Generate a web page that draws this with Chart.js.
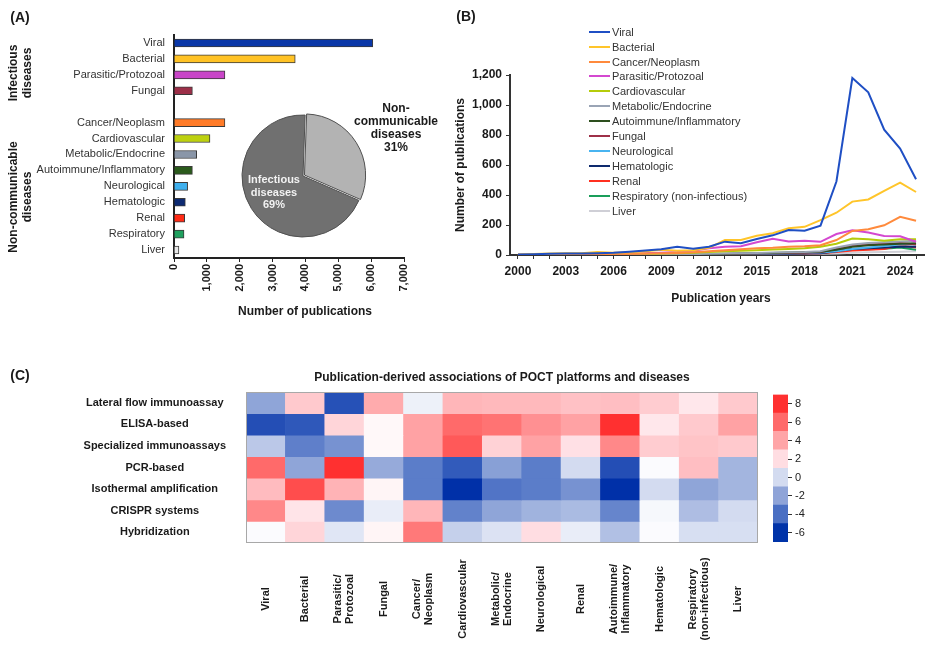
<!DOCTYPE html>
<html>
<head>
<meta charset="utf-8">
<title>POCT publications</title>
<script src="https://cdn.jsdelivr.net/npm/chart.js@4.4.1/dist/chart.umd.min.js"></script>
<style>
body { margin: 0; background: #fff; }
#page { position: relative; width: 936px; height: 649px; overflow: hidden; font-family: 'Liberation Sans', Arial, sans-serif; color: #1a1a1a; }
#page canvas { position: absolute; }
.t { position: absolute; white-space: nowrap; transform: translate(-50%, -50%); text-align: center; }
.v { transform: translate(-50%, -50%) rotate(-90deg); }
.b { font-weight: bold; }
.leg { position: absolute; font-size: 11px; color: #333; white-space: nowrap; transform: translateY(-50%); }
.leg i { position: absolute; left: -23px; top: 50%; width: 21px; height: 2px; margin-top: -1px; }
</style>
</head>
<body>
<div id="page">
  <canvas id="barA" width="430" height="330" style="left:0;top:0"></canvas>
  <canvas id="pieA" width="160" height="160" style="left:223px;top:96px"></canvas>
  <canvas id="lineB" width="496" height="300" style="left:440px;top:20px"></canvas>
  <canvas id="heatC" width="770" height="289" style="left:0;top:360px"></canvas>
  <canvas id="barC" width="60" height="170" style="left:760px;top:385px"></canvas>

  <div class="t b" style="left:20px;top:17px;font-size:14px">(A)</div>
  <div class="t b" style="left:466px;top:16px;font-size:14px">(B)</div>
  <div class="t b" style="left:20px;top:375px;font-size:14px">(C)</div>

  <div class="t v b" style="left:20px;top:73px;font-size:12px;line-height:14px">Infectious<br>diseases</div>
  <div class="t v b" style="left:20px;top:197px;font-size:12px;line-height:14px">Non-communicable<br>diseases</div>
  <div class="t b" style="left:305px;top:311px;font-size:12px">Number of publications</div>
  <div class="t b" style="left:274px;top:192px;font-size:11px;line-height:12.5px;color:#f2f2f2">Infectious<br>diseases<br>69%</div>
  <div class="t b" style="left:396px;top:128px;font-size:12px;line-height:13px">Non-<br>communicable<br>diseases<br>31%</div>

  <div class="t v b" style="left:460px;top:165px;font-size:12px">Number of publications</div>
  <div class="t b" style="left:721px;top:298px;font-size:12px">Publication years</div>
  <div id="legB"></div>

  <div class="t b" style="left:502px;top:377px;font-size:12px">Publication-derived associations of POCT platforms and diseases</div>
</div>
<script>
// ---- Panel A data
const barCats = ['Viral', 'Bacterial', 'Parasitic/Protozoal', 'Fungal', '', 'Cancer/Neoplasm', 'Cardiovascular',
  'Metabolic/Endocrine', 'Autoimmune/Inflammatory', 'Neurological', 'Hematologic', 'Renal', 'Respiratory', 'Liver'];
const barTotals = [6050, 3690, 1550, 560, null, 1550, 1095, 690, 560, 415, 345, 325, 305, 150];
const barColors = ['#0a37a8', '#ffc225', '#c945c8', '#9c2f48', '#fff', '#ff7b28', '#bdd10f',
  '#8a96a8', '#2b5a1c', '#3fb0ee', '#0d2a72', '#ff2b16', '#1fa05e', '#e8e8e8'];
const xTicksA = [0, 1000, 2000, 3000, 4000, 5000, 6000, 7000];
const pieLabels = ['Non-communicable diseases', 'Infectious diseases'];
const pieShares = [31, 69];

// ---- Panel B data (publications per year)
const years = ['2000','2001','2002','2003','2004','2005','2006','2007','2008','2009','2010','2011','2012',
  '2013','2014','2015','2016','2017','2018','2019','2020','2021','2022','2023','2024','2025'];
const viral        = [3,5,8,10,10,12,15,22,30,38,55,42,55,89,78,107,131,167,162,196,490,1180,1085,835,710,505];
const bacterial    = [3,6,10,12,12,20,15,18,25,35,28,32,48,100,100,128,145,178,188,232,282,356,370,428,482,420];
const cancer       = [1,2,3,4,5,6,7,8,10,12,14,18,25,32,38,45,48,55,58,65,100,160,172,198,255,228];
const parasitic    = [1,2,3,4,5,6,8,10,12,15,20,28,45,55,58,85,108,90,95,88,140,165,150,127,125,88];
const cardio       = [0,1,2,3,4,5,6,7,8,10,12,15,20,25,28,32,36,40,45,55,75,110,105,95,105,105];
const metabolic    = [0,0,1,1,1,2,2,3,3,4,5,6,8,10,12,14,16,18,20,25,50,70,80,85,90,95];
const autoimmune   = [0,0,0,1,1,1,2,2,3,3,4,5,6,8,10,12,14,16,18,22,35,55,65,70,75,78];
const fungal       = [0,0,1,1,1,2,2,2,3,3,4,5,6,7,8,10,12,14,15,18,40,60,70,75,80,70];
const neurological = [0,0,0,1,1,1,1,2,2,3,3,4,5,6,7,8,10,12,14,16,25,40,50,60,70,72];
const hematologic  = [0,0,0,0,1,1,1,1,2,2,3,3,4,5,6,7,8,9,10,12,25,40,45,50,55,55];
const renal        = [0,0,0,0,0,1,1,1,2,2,2,3,3,4,5,6,7,8,10,12,20,30,35,40,65,50];
const respiratory  = [0,0,1,1,1,2,2,2,3,3,3,4,5,6,7,8,9,10,12,14,25,40,38,42,50,35];
const liver        = [0,0,0,0,0,0,1,1,1,1,2,2,2,3,3,4,5,5,6,8,10,15,18,20,22,25];
const seriesNames = ['Viral', 'Bacterial', 'Cancer/Neoplasm', 'Parasitic/Protozoal', 'Cardiovascular',
  'Metabolic/Endocrine', 'Autoimmune/Inflammatory', 'Fungal', 'Neurological', 'Hematologic', 'Renal',
  'Respiratory (non-infectious)', 'Liver'];
const seriesData = [viral, bacterial, cancer, parasitic, cardio, metabolic, autoimmune, fungal,
  neurological, hematologic, renal, respiratory, liver];
const seriesColors = ['#1f4fc4', '#ffc52a', '#ff8a3c', '#d448d0', '#b5cc0a', '#9aa4b5', '#2d4f1e',
  '#9e3048', '#48b4f0', '#0e2a6e', '#ff3020', '#1a9e5a', '#cfcfd6'];
const yTicksB = [0, 200, 400, 600, 800, 1000, 1200];

// ---- Panel C data (association scores, columns = diseaseCols)
const platforms = ['Lateral flow immunoassay', 'ELISA-based', 'Specialized immunoassays', 'PCR-based',
  'Isothermal amplification', 'CRISPR systems', 'Hybridization'];
const diseaseCols = [['Viral'], ['Bacterial'], ['Parasitic/', 'Protozoal'], ['Fungal'], ['Cancer/', 'Neoplasm'],
  ['Cardiovascular'], ['Metabolic/', 'Endocrine'], ['Neurological'], ['Renal'], ['Autoimmune/', 'Inflammatory'],
  ['Hematologic'], ['Respiratory', '(non-infectious)'], ['Liver']];
const lateralFlow   = [-2.0, 2.7, -5.2, 3.8, 0.6, 3.4, 3.3, 3.3, 3.0, 3.1, 2.6, 1.7, 2.7];
const elisa         = [-5.3, -4.9, 2.3, 1.2, 4.1, 6.0, 5.7, 4.7, 4.1, 8.0, 1.7, 2.7, 4.1];
const specialized   = [-0.7, -3.4, -2.7, 1.2, 4.1, 6.6, 2.4, 4.1, 1.9, 5.0, 2.6, 2.9, 2.7];
const pcr           = [6.0, -2.0, 8.0, -1.8, -3.5, -4.8, -2.2, -3.5, 0.0, -5.3, 0.9, 3.1, -1.4];
const isothermal    = [3.2, 7.0, 3.5, 1.3, -3.5, -6.5, -3.8, -3.5, -2.7, -6.5, 0.0, -2.0, -1.4];
const crispr        = [5.0, 1.8, -3.0, 0.5, 3.4, -3.3, -2.0, -1.5, -1.2, -3.2, 0.8, -1.1, 0.0];
const hybridization = [0.9, 2.3, 0.3, 1.3, 5.5, -0.4, 0.2, 2.0, 0.5, -1.0, 0.9, 0.1, 0.1];
const heatRows = [lateralFlow, elisa, specialized, pcr, isothermal, crispr, hybridization];
const cbBands = [[-7, -5], [-5, -3], [-3, -1], [-1, 1], [1, 3], [3, 5], [5, 7], [7, 9]];
const cbTicks = [-6, -4, -2, 0, 2, 4, 6, 8];

// colour scale
const cbColors = ['#0033a8', '#4a6fc3', '#8fa4d8', '#d3dbf0', '#ffdde2', '#ffa5a7', '#ff6a6a', '#ff3030'];
const heatStops = [[-6.5, [0, 48, 168]], [-4, [74, 111, 196]], [-2, [143, 165, 216]], [0, [211, 219, 240]],
  [1, [255, 255, 255]], [2, [255, 221, 226]], [4, [255, 165, 167]], [6, [255, 106, 106]], [8, [255, 48, 48]]];
function heatColor(v) {
  if (v <= heatStops[0][0]) return 'rgb(' + heatStops[0][1].join(',') + ')';
  for (let i = 1; i < heatStops.length; i++) {
    const [v1, c1] = heatStops[i];
    if (v <= v1) {
      const [v0, c0] = heatStops[i - 1];
      const f = (v - v0) / (v1 - v0);
      return 'rgb(' + c0.map((c, k) => Math.round(c + (c1[k] - c) * f)).join(',') + ')';
    }
  }
  return 'rgb(' + heatStops[heatStops.length - 1][1].join(',') + ')';
}

Chart.defaults.font.family = "'Liberation Sans', Arial, sans-serif";
Chart.defaults.color = '#1a1a1a';
Chart.defaults.animation = false;
Chart.defaults.responsive = false;
Chart.defaults.plugins.legend.display = false;
Chart.defaults.plugins.tooltip.enabled = false;

// Panel A bars
new Chart(document.getElementById('barA'), {
  type: 'bar',
  data: {
    labels: barCats,
    datasets: [{ data: barTotals, backgroundColor: barColors, borderColor: '#3a3a3a', borderWidth: 1, barThickness: 8 }]
  },
  options: {
    indexAxis: 'y',
    layout: { padding: { top: 35, right: 26, bottom: 32, left: 0 } },
    scales: {
      x: {
        min: 0, max: 7000,
        afterBuildTicks: s => { s.ticks = xTicksA.map(v => ({ value: v })); },
        ticks: { minRotation: 90, maxRotation: 90, padding: 2, font: { size: 11, weight: 'bold' },
          callback: v => v.toLocaleString('en-US') },
        grid: { drawOnChartArea: false, tickLength: 4, color: '#222' },
        border: { color: '#222', width: 2 },
        afterFit: s => { s.height = 40; }
      },
      y: {
        ticks: { autoSkip: false, font: { size: 11 }, color: '#333', padding: 9 },
        grid: { display: false, drawTicks: false },
        border: { color: '#222', width: 2 },
        afterFit: s => { s.width = 174; }
      }
    }
  }
});

// Panel A pie
new Chart(document.getElementById('pieA'), {
  type: 'pie',
  data: {
    labels: pieLabels,
    datasets: [{ data: pieShares, backgroundColor: ['#b3b3b3', '#707070'], borderColor: '#505050', borderWidth: 1, offset: [7, 0] }]
  },
  options: { radius: 61, rotation: 2 }
});

// Panel B lines
new Chart(document.getElementById('lineB'), {
  type: 'line',
  data: {
    labels: years,
    datasets: seriesData.map((d, i) => ({
      label: seriesNames[i], data: d, borderColor: seriesColors[i], borderWidth: 2, pointRadius: 0, tension: 0
    }))
  },
  options: {
    layout: { padding: { top: 55, right: 12, bottom: 40, left: 0 } },
    scales: {
      x: {
        offset: true,
        ticks: { autoSkip: false, maxRotation: 0, padding: 5, font: { size: 12, weight: 'bold' },
          callback: (v, i) => (i % 3 === 0 ? years[i] : '') },
        grid: { drawOnChartArea: false, tickLength: 4, color: '#333' },
        border: { color: '#333', width: 2 },
        afterFit: s => { s.height = 25; }
      },
      y: {
        min: 0, max: 1200,
        afterBuildTicks: s => { s.ticks = yTicksB.map(v => ({ value: v })); },
        ticks: { padding: 4, font: { size: 12, weight: 'bold' }, callback: v => v.toLocaleString('en-US') },
        grid: { drawOnChartArea: false, tickLength: 4, color: '#333' },
        border: { color: '#333', width: 2 },
        afterFit: s => { s.width = 70; }
      }
    }
  }
});

// legend for panel B
const legB = document.getElementById('legB');
seriesNames.forEach((name, i) => {
  const row = document.createElement('div');
  row.className = 'leg';
  row.style.left = '612px';
  row.style.top = (31.7 + i * 14.9) + 'px';
  row.innerHTML = '<i style="background:' + seriesColors[i] + '"></i>' + name;
  legB.appendChild(row);
});

// Panel C heatmap: frame + rotated column labels
const heatFrame = {
  id: 'heatFrame',
  afterDatasetsDraw(chart) {
    const { ctx, chartArea: a, scales: { x } } = chart;
    ctx.save();
    ctx.strokeStyle = '#a8a8a8';
    ctx.lineWidth = 1;
    ctx.strokeRect(a.left + 0.5, a.top + 0.5, a.width - 1, a.height - 1);
    ctx.font = "bold 11px 'Liberation Sans', Arial, sans-serif";
    ctx.fillStyle = '#1a1a1a';
    ctx.textAlign = 'center';
    ctx.textBaseline = 'middle';
    diseaseCols.forEach((lines, i) => {
      ctx.save();
      ctx.translate(x.getPixelForValue(i), a.bottom + 56);
      ctx.rotate(-Math.PI / 2);
      lines.forEach((ln, j) => ctx.fillText(ln, 0, (j - (lines.length - 1) / 2) * 12));
      ctx.restore();
    });
    ctx.restore();
  }
};

new Chart(document.getElementById('heatC'), {
  type: 'bar',
  data: {
    labels: diseaseCols,
    datasets: platforms.map((p, r) => ({
      label: p, data: diseaseCols.map(() => 1), backgroundColor: heatRows[r].map(heatColor),
      borderWidth: 0, barPercentage: 1, categoryPercentage: 1
    }))
  },
  options: {
    layout: { padding: { top: 32, right: 12, bottom: 106, left: 0 } },
    scales: {
      x: { stacked: true, display: false },
      y: {
        stacked: true, reverse: true, min: 0, max: 7,
        afterBuildTicks: s => { s.ticks = platforms.map((p, i) => ({ value: i + 0.5 })); },
        ticks: { crossAlign: 'center', padding: 20, font: { size: 11, weight: 'bold' },
          callback: v => platforms[Math.floor(v)] },
        grid: { display: false, drawTicks: false },
        border: { display: false },
        afterFit: s => { s.width = 246; }
      }
    }
  },
  plugins: [heatFrame]
});

// colour bar
new Chart(document.getElementById('barC'), {
  type: 'bar',
  data: {
    labels: [''],
    datasets: cbBands.map((b, i) => ({
      data: [b], backgroundColor: cbColors[i], grouped: false, barPercentage: 1, categoryPercentage: 1, borderWidth: 0
    }))
  },
  options: {
    layout: { padding: { top: 7, right: 0, bottom: 13, left: 13 } },
    scales: {
      x: { display: false },
      y: {
        position: 'right', min: -7, max: 9,
        afterBuildTicks: s => { s.ticks = cbTicks.map(v => ({ value: v })); },
        ticks: { font: { size: 11 }, color: '#222', padding: 3 },
        grid: { drawOnChartArea: false, tickLength: 4, color: '#333' },
        border: { display: false },
        afterFit: s => { s.width = 32; }
      }
    }
  }
});
</script>
</body>
</html>
